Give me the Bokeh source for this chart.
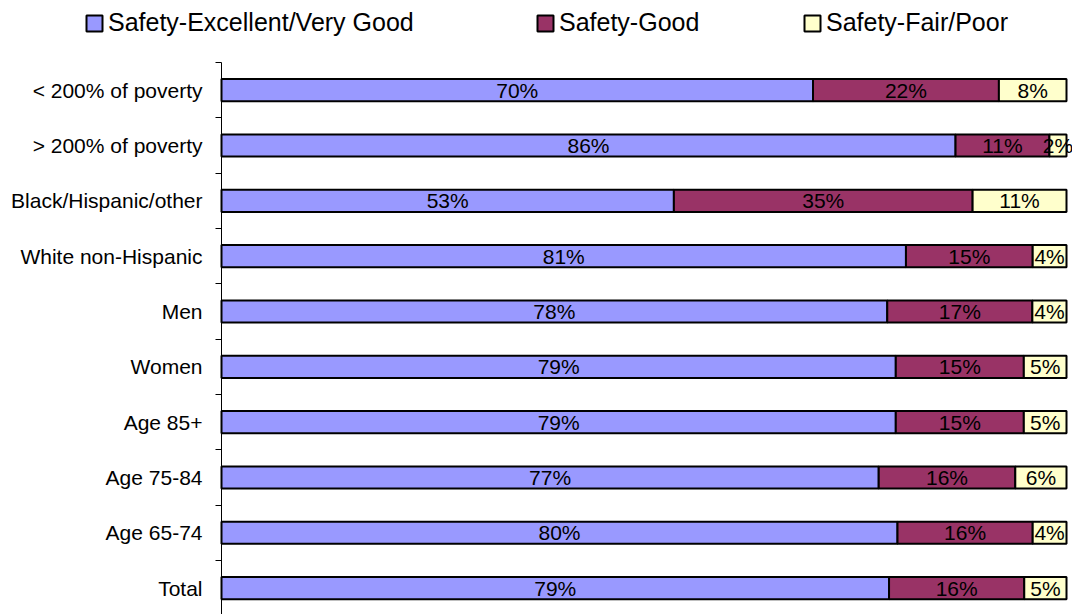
from bokeh.plotting import figure
from bokeh.models import Range1d, FixedTicker, Legend, LegendItem, ColumnDataSource
from bokeh.core.properties import value
from bokeh.embed import file_html
from bokeh.resources import INLINE

categories = ["< 200% of poverty", "> 200% of poverty", "Black/Hispanic/other",
              "White non-Hispanic", "Men", "Women", "Age 85+", "Age 75-84",
              "Age 65-74", "Total"]
excellent = [70, 86, 53, 81, 78, 79, 79, 77, 80, 79]
good = [22, 11, 35, 15, 17, 15, 15, 16, 16, 16]
fair = [8, 2, 11, 4, 4, 5, 5, 6, 4, 5]
series_names = ["Safety-Excellent/Very Good", "Safety-Good", "Safety-Fair/Poor"]
colors = ["#9999FF", "#993366", "#FFFFCC"]

FONT = "Liberation Sans"
W, H = 1072, 614
n = len(categories)
ypos = [n - 1 - i for i in range(n)]

# 100% stacked: normalise each row
rows = list(zip(excellent, good, fair))
norm = [[v * 100.0 / sum(r) for v in r] for r in rows]

# layout geometry (pixels): bar area from x=221 to x=1066, categories from y=62 down
bar_left_px, bar_right_px = 221, 1066
top_px, row_px = 62, 55.33
px_per_unit = (bar_right_px - bar_left_px) / 100.0
x_start = -bar_left_px / px_per_unit
x_end = 100 + (W - bar_right_px) / px_per_unit
y_end = (n - 0.5) + top_px / row_px
y_start = (n - 0.5) - (H - top_px) / row_px

p = figure(width=W, height=H, output_backend="svg", toolbar_location=None,
           x_range=Range1d(x_start, x_end), y_range=Range1d(y_start, y_end),
           min_border_left=0, min_border_right=0,
           min_border_top=0, min_border_bottom=0)
p.outline_line_color = None
p.grid.visible = False
p.xaxis.visible = False

series_vals = [excellent, good, fair]
renderers = []
for k in range(3):
    left = [sum(norm[i][:k]) for i in range(n)]
    right = [sum(norm[i][:k + 1]) for i in range(n)]
    src = ColumnDataSource(dict(y=ypos, left=left, right=right,
                                mid=[(a + b) / 2 for a, b in zip(left, right)],
                                lab=[f"{v}%" for v in series_vals[k]]))
    r = p.hbar(y="y", left="left", right="right", height=0.4, source=src,
               fill_color=colors[k], line_color="black", line_width=2)
    renderers.append(r)
    p.text(x="mid", y="y", text="lab", source=src, text_align="center",
           text_baseline="middle", text_font=value(FONT), text_font_size="21px",
           text_color="black")

ax = p.yaxis[0]
ax.fixed_location = 0
ax.bounds = (y_start, n - 0.5)
ax.ticker = FixedTicker(ticks=ypos, minor_ticks=[y + 0.5 for y in range(-1, n)])
ax.major_label_overrides = {y: c for y, c in zip(ypos, categories)}
ax.major_tick_out = 0
ax.major_tick_in = 0
ax.minor_tick_out = 6
ax.minor_tick_in = 0
ax.minor_tick_line_color = "black"
ax.axis_line_color = "black"
ax.major_label_text_font = FONT
ax.major_label_text_font_size = "21px"
ax.major_label_text_color = "black"
ax.major_label_standoff = 13

leg_x = [84, 535, 802]
for k in range(3):
    lg = Legend(items=[LegendItem(label=series_names[k], renderers=[renderers[k]])],
                location=(leg_x[k], H - 37), orientation="horizontal",
                glyph_width=20, glyph_height=20, label_standoff=4,
                padding=0, margin=0, border_line_color=None, background_fill_alpha=0,
                label_text_font=FONT, label_text_font_size="25px", label_text_color="black")
    p.add_layout(lg, "center")

open("out.html", "w").write(file_html(p, INLINE))
